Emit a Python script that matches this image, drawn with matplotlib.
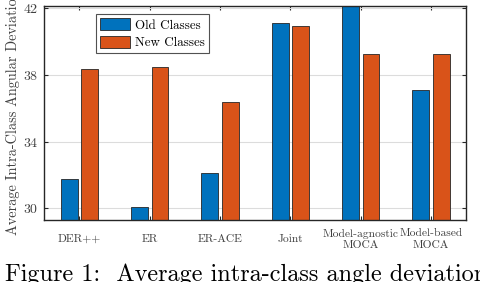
import matplotlib
matplotlib.use("Agg")
import matplotlib.pyplot as plt
import numpy as np

# ─── Data ────────────────────────────────────────────────────────────────────
methods     = ["DER++", "ER", "ER-ACE", "Joint", "Model-agnostic\nMOCA", "Model-based\nMOCA"]
old_classes = [31.75, 30.1, 32.1, 41.15, 42.3, 37.1]
new_classes = [38.35, 38.5, 36.35, 40.95, 39.25, 39.25]
yticks      = [30, 34, 38, 42]

plt.rcParams["font.family"] = ["cmr10", "DejaVu Serif"]
plt.rcParams["axes.formatter.use_mathtext"] = True

fig = plt.figure(figsize=(4.8, 2.82), dpi=100)
ax = fig.add_axes([0.0923, 0.22, 0.879, 0.7587])

x = np.arange(1, len(methods) + 1)
w = 0.24
off = 0.145
ax.bar(x - off, old_classes, w, color="#0072BD", edgecolor="#262626",
       linewidth=0.6, label="Old Classes")
ax.bar(x + off, new_classes, w, color="#D95319", edgecolor="#262626",
       linewidth=0.6, label="New Classes")

ax.set_xlim(0.5, 6.5)
ax.set_ylim(29.3, 42.14)
ax.set_yticks(yticks)
ax.set_xticks(x)
ax.set_xticklabels(methods, fontsize=8.3, color="#404040", va="center",
                   linespacing=1.25)
ax.tick_params(axis="x", pad=14)
ax.tick_params(axis="y", labelsize=10, colors="#404040", pad=4)
ax.tick_params(direction="in", top=True, right=True, length=3,
               width=0.8, color="#262626")

ax.set_axisbelow(True)
ax.yaxis.grid(True, color="#dcdcdc", linewidth=0.8)

for s in ax.spines.values():
    s.set_color("#262626")
    s.set_linewidth(1.0)

ax.set_ylabel("Average Intra-Class Angular Deviation", fontsize=10.3,
              color="#404040", labelpad=2)

leg = ax.legend(loc="upper left", bbox_to_anchor=(0.1226, 0.9626),
                borderaxespad=0, fontsize=9.4, frameon=True, fancybox=False,
                handlelength=2.3, handleheight=1.1, borderpad=0.3,
                labelspacing=0.3, handletextpad=0.4)
leg.get_frame().set_edgecolor("#262626")
leg.get_frame().set_linewidth(0.8)

# caption from the page, cut off at the bottom
fig.text(0.01, 0.0035, "Figure 1:  Average intra-class angle deviation",
         fontsize=17.5, color="black", ha="left", va="baseline")

fig.savefig("out.png", dpi=100)
